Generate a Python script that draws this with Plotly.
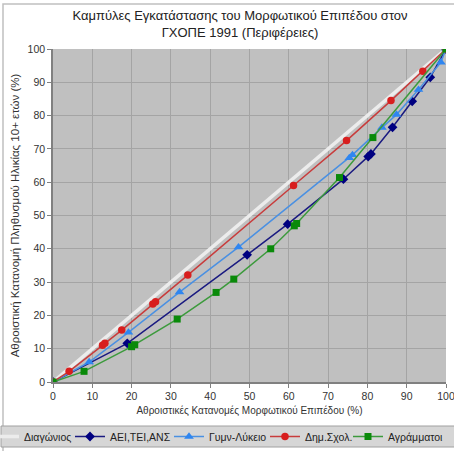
import plotly.graph_objects as go

# ---- data ----
diag_x = [0, 100]
diag_y = [0, 100]

aei_x = [0, 18.9, 49.4, 59.7, 73.9, 80.2, 80.9, 86.4, 91.4, 96.0, 100]
aei_y = [0, 11.6, 38.2, 47.4, 60.9, 67.7, 68.5, 76.5, 84.3, 91.5, 100]

gym_x = [0, 9.2, 19.2, 32.2, 47.2, 75.4, 76.2, 83.7, 87.4, 93.0, 98.7, 100]
gym_y = [0, 6.0, 14.9, 27.0, 40.5, 67.3, 68.2, 76.4, 80.3, 87.8, 96.0, 100]

dim_x = [0, 4.1, 12.6, 13.2, 17.5, 25.4, 26.1, 34.3, 61.2, 74.7, 86.0, 94.1, 100]
dim_y = [0, 3.2, 11.0, 11.6, 15.6, 23.4, 24.1, 32.1, 59.0, 72.5, 84.5, 93.3, 100]

agr_x = [0, 7.9, 20.0, 20.8, 31.6, 41.5, 46.0, 55.4, 61.4, 62.0, 72.9, 81.4, 100]
agr_y = [0, 3.2, 10.6, 11.2, 18.9, 26.9, 30.9, 40.0, 46.9, 47.6, 61.4, 73.4, 100]

names = ["Διαγώνιος", "ΑΕΙ,ΤΕΙ,ΑΝΣ", "Γυμν-Λύκειο", "Δημ.Σχολ.", "Αγράμματοι"]
ticks = [0, 10, 20, 30, 40, 50, 60, 70, 80, 90, 100]

FONT = "Liberation Sans, Arial, sans-serif"

L, R, T, B = 53, 8, 49, 69
W, H = 454, 451
pw, ph = W - L - R, H - T - B


def px_x(p):
    return (p - L) / pw


def px_y(p):
    return (H - B - p) / ph


legend_ids = ["legend", "legend2", "legend3", "legend4", "legend5"]
legend_text_px = [24, 110, 209, 305, 388]   # where each legend entry's text starts

fig = go.Figure()
fig.add_trace(go.Scatter(x=diag_x, y=diag_y, mode="lines", name=names[0],
                         legend=legend_ids[0], showlegend=True,
                         line=dict(color="#ececec", width=3.5)))
fig.add_trace(go.Scatter(x=aei_x, y=aei_y, mode="lines+markers", name=names[1],
                         legend=legend_ids[1], showlegend=True,
                         line=dict(color="#1a1a80", width=1.5),
                         marker=dict(symbol="diamond", size=7.5, color="#000080")))
fig.add_trace(go.Scatter(x=gym_x, y=gym_y, mode="lines+markers", name=names[2],
                         legend=legend_ids[2], showlegend=True,
                         line=dict(color="#4a90e2", width=1.5),
                         marker=dict(symbol="triangle-up", size=8.5, color="#2f86f0")))
fig.add_trace(go.Scatter(x=dim_x, y=dim_y, mode="lines+markers", name=names[3],
                         legend=legend_ids[3], showlegend=True,
                         line=dict(color="#c83c3c", width=1.5),
                         marker=dict(symbol="circle", size=7.5, color="#d81e1e")))
fig.add_trace(go.Scatter(x=agr_x, y=agr_y, mode="lines+markers", name=names[4],
                         legend=legend_ids[4], showlegend=True,
                         line=dict(color="#3c9a3c", width=1.5),
                         marker=dict(symbol="square", size=7, color="#0a8a0a")))

legend_common = dict(orientation="h", xanchor="left", y=px_y(436.5), yanchor="middle",
                     bgcolor="rgba(0,0,0,0)", borderwidth=0, visible=True,
                     font=dict(family=FONT, size=10.5, color="#222222"), itemwidth=30)
legends = {}
for lid, tx in zip(legend_ids, legend_text_px):
    legends[lid] = dict(legend_common, x=px_x(tx - 40))

fig.update_layout(
    width=W, height=H,
    showlegend=True,
    margin=dict(l=L, r=R, t=T, b=B, autoexpand=False),
    paper_bgcolor="white",
    plot_bgcolor="#c0c0c0",
    font=dict(family=FONT, size=10, color="#333333"),
    title=dict(text="Καμπύλες Εγκατάστασης του Μορφωτικού Επιπέδου στον<br>ΓΧΟΠΕ 1991 (Περιφέρειες)",
               x=240 / W, xanchor="center", y=1 - 20 / H, yanchor="top",
               font=dict(family=FONT, size=13, color="#222222")),
    xaxis=dict(range=[0, 100], tickvals=ticks, showgrid=True, gridcolor="#a4a4a4", gridwidth=1,
               zeroline=False, showline=True, linecolor="#808080", linewidth=1.5,
               ticks="outside", ticklen=4, tickcolor="#808080", automargin=False,
               ticklabeloverflow="allow",
               tickfont=dict(size=10.5, color="#333333"),
               title=dict(text="Αθροιστικές Κατανομές Μορφωτικού Επιπέδου (%)", standoff=6,
                          font=dict(size=10, color="#333333"))),
    yaxis=dict(range=[0, 100], tickvals=ticks, showgrid=True, gridcolor="#a4a4a4", gridwidth=1,
               zeroline=False, showline=True, linecolor="#808080", linewidth=1.5,
               ticks="outside", ticklen=4, tickcolor="#808080", automargin=False,
               ticklabeloverflow="allow",
               tickfont=dict(size=10.5, color="#333333"),
               title=dict(text="Αθροιστική Κατανομή Πληθυσμού Ηλικίας 10+ ετών (%)", standoff=6,
                          font=dict(size=11.5, color="#333333"))),
    shapes=[
        dict(type="rect", xref="paper", yref="paper",
             x0=px_x(3), x1=px_x(470), y0=px_y(470), y1=px_y(4),
             line=dict(color="#c0c0c0", width=1.5), layer="below"),
        dict(type="rect", xref="paper", yref="paper",
             x0=px_x(1), x1=px_x(470), y0=px_y(447), y1=px_y(426),
             fillcolor="#d6d6d6", line=dict(color="#a0a0a0", width=1), layer="above"),
    ],
    **legends,
)

# remove the browser's default 8px body margin so the figure sits at the page origin
fig.write_html("out.html",
               config={"displayModeBar": False},
               post_script="document.body.style.margin='0';document.body.style.overflow='hidden';")
